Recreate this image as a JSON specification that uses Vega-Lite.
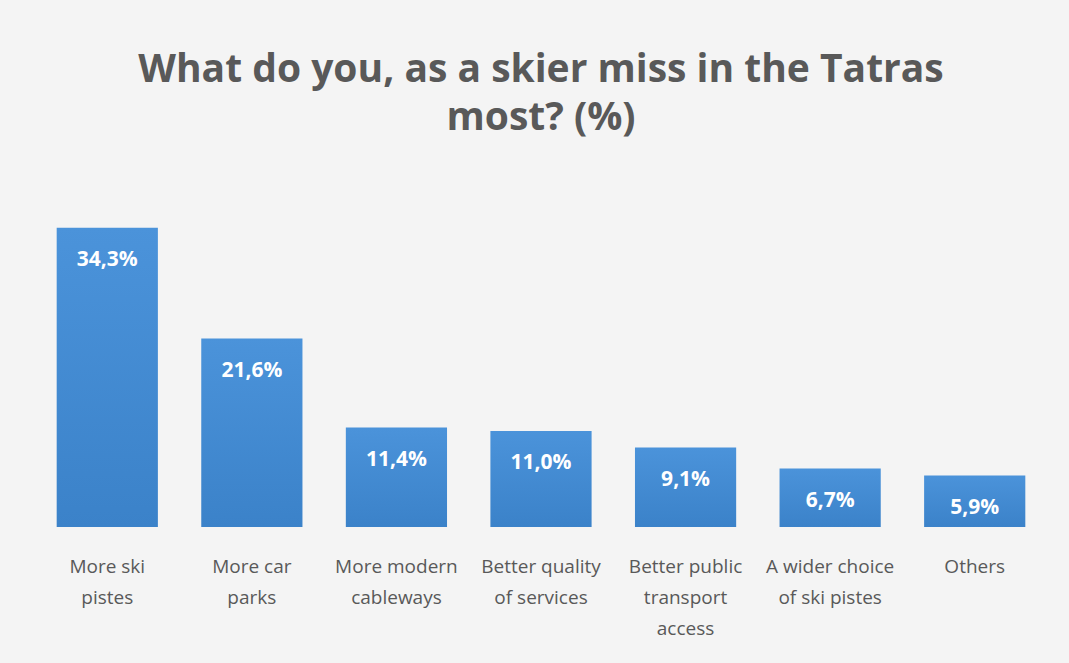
{
  "$schema": "https://vega.github.io/schema/vega-lite/v6.json",
  "width": 1012,
  "height": 349,
  "padding": {"left": 35, "top": 51, "right": 22, "bottom": 28},
  "background": "#f4f4f4",
  "title": {
    "text": ["What do you, as a skier miss in the Tatras", "most? (%)"],
    "font": "Open Sans",
    "fontSize": 39,
    "fontWeight": "bold",
    "color": "#595959",
    "lineHeight": 48,
    "anchor": "middle",
    "offset": 40
  },
  "data": {
    "values": [
      {"category": "More ski\npistes", "value": 34.3, "label": "34,3%"},
      {"category": "More car\nparks", "value": 21.6, "label": "21,6%"},
      {"category": "More modern\ncableways", "value": 11.4, "label": "11,4%"},
      {"category": "Better quality\nof services", "value": 11.0, "label": "11,0%"},
      {"category": "Better public\ntransport\naccess", "value": 9.1, "label": "9,1%"},
      {"category": "A wider choice\nof ski pistes", "value": 6.7, "label": "6,7%"},
      {"category": "Others", "value": 5.9, "label": "5,9%"}
    ]
  },
  "encoding": {
    "x": {
      "field": "category",
      "type": "nominal",
      "sort": null,
      "scale": {"paddingInner": 0.3, "paddingOuter": 0.15},
      "axis": {
        "title": null,
        "labelAngle": 0,
        "domain": false,
        "ticks": false,
        "labelPadding": 30,
        "labelFont": "Open Sans",
        "labelFontSize": 19,
        "labelColor": "#595959",
        "labelLineHeight": 31,
        "labelExpr": "split(datum.value, '\\n')"
      }
    },
    "y": {
      "field": "value",
      "type": "quantitative",
      "scale": {"domain": [0, 40]},
      "axis": null
    }
  },
  "layer": [
    {
      "mark": {
        "type": "bar",
        "color": {
          "gradient": "linear",
          "x1": 0, "y1": 0, "x2": 0, "y2": 1,
          "stops": [
            {"offset": 0, "color": "#4b93da"},
            {"offset": 1, "color": "#3b82c9"}
          ]
        }
      }
    },
    {
      "mark": {
        "type": "text",
        "baseline": "middle",
        "dy": 32,
        "font": "Open Sans",
        "fontSize": 21,
        "fontWeight": "bold",
        "color": "white"
      },
      "encoding": {"text": {"field": "label"}}
    }
  ],
  "config": {"view": {"stroke": null}}
}
